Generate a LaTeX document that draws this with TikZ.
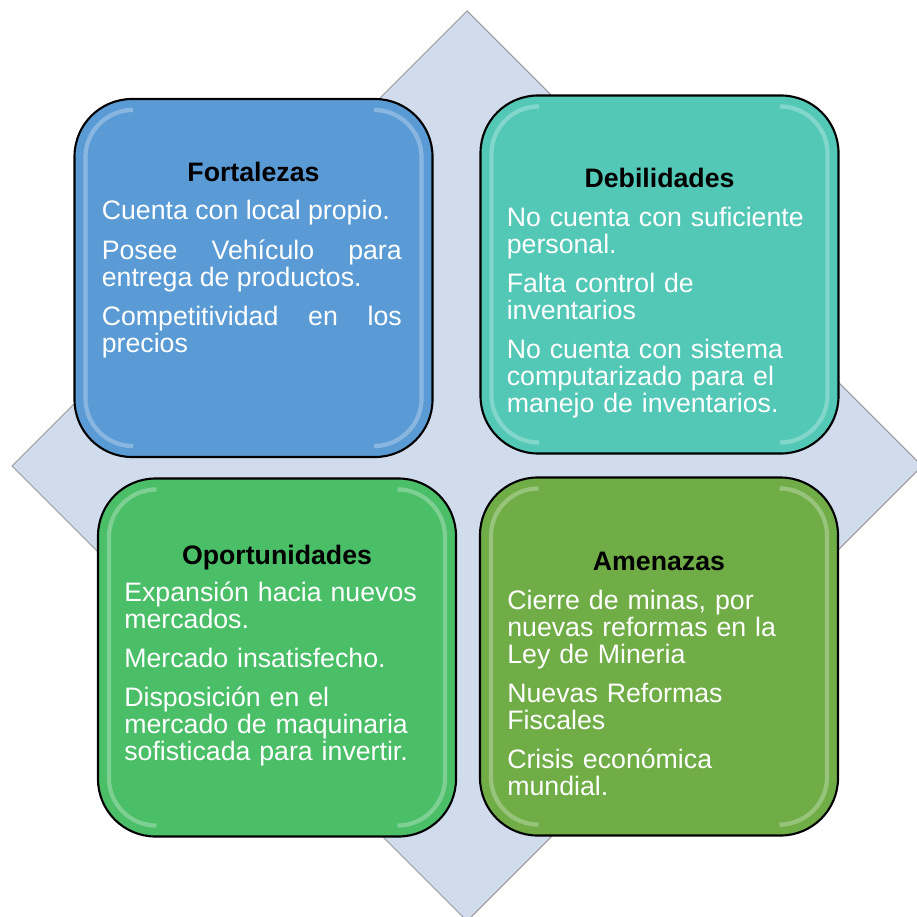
\documentclass[tikz,border=0pt]{standalone}
\usepackage{fontspec}
\setmainfont{Liberation Sans}
\usepackage{tikz}
\pgfdeclarelayer{background}
\pgfsetlayers{background,main}
\hyphenpenalty=10000
\exhyphenpenalty=10000
\definecolor{fortblue}{HTML}{5B9BD5}
\definecolor{debteal}{HTML}{53C8B6}
\definecolor{opogreen}{HTML}{4BBE68}
\definecolor{amegreen}{HTML}{70AD47}
\definecolor{diamondfill}{HTML}{D0DBEC}
\tikzstyle{swot}=[draw=black, line width=1.2pt, rounded corners=1.15cm,
    minimum width=7.16cm, minimum height=7.16cm]
\tikzstyle{head}=[font=\fontsize{15.2}{15.4}\selectfont\bfseries, inner sep=0pt]
\tikzstyle{body}=[text=white, text width=6cm, align=left, inner sep=0pt,
    font=\fontsize{15.2}{15.3}\selectfont]
\tikzstyle{glow}=[white, opacity=0.28, line width=2.4pt, rounded corners=0.95cm]

\begin{document}
\begin{tikzpicture}
  \useasboundingbox (0,0) rectangle (18.32,-18.34);
  \node[swot, fill=fortblue] at (5.07,-5.56) (fort) {};
  \node[swot, fill=debteal] at (13.19,-5.49) (deb) {};
  \node[swot, fill=opogreen] at (5.54,-13.15) (opo) {};
  \node[swot, fill=amegreen] at (13.18,-13.13) (ame) {};

  % bevel light on the sides
  \draw[glow] ([shift={(1.1,-0.24)}]fort.north west) -- ([shift={(0.24,-0.24)}]fort.north west) -- ([shift={(0.24,0.24)}]fort.south west) -- ([shift={(1.1,0.24)}]fort.south west);
  \draw[glow] ([shift={(-1.1,-0.24)}]fort.north east) -- ([shift={(-0.24,-0.24)}]fort.north east) -- ([shift={(-0.24,0.24)}]fort.south east) -- ([shift={(-1.1,0.24)}]fort.south east);
  \draw[glow] ([shift={(1.1,-0.24)}]deb.north west) -- ([shift={(0.24,-0.24)}]deb.north west) -- ([shift={(0.24,0.24)}]deb.south west) -- ([shift={(1.1,0.24)}]deb.south west);
  \draw[glow] ([shift={(-1.1,-0.24)}]deb.north east) -- ([shift={(-0.24,-0.24)}]deb.north east) -- ([shift={(-0.24,0.24)}]deb.south east) -- ([shift={(-1.1,0.24)}]deb.south east);
  \draw[glow] ([shift={(1.1,-0.24)}]opo.north west) -- ([shift={(0.24,-0.24)}]opo.north west) -- ([shift={(0.24,0.24)}]opo.south west) -- ([shift={(1.1,0.24)}]opo.south west);
  \draw[glow] ([shift={(-1.1,-0.24)}]opo.north east) -- ([shift={(-0.24,-0.24)}]opo.north east) -- ([shift={(-0.24,0.24)}]opo.south east) -- ([shift={(-1.1,0.24)}]opo.south east);
  \draw[glow] ([shift={(1.1,-0.24)}]ame.north west) -- ([shift={(0.24,-0.24)}]ame.north west) -- ([shift={(0.24,0.24)}]ame.south west) -- ([shift={(1.1,0.24)}]ame.south west);
  \draw[glow] ([shift={(-1.1,-0.24)}]ame.north east) -- ([shift={(-0.24,-0.24)}]ame.north east) -- ([shift={(-0.24,0.24)}]ame.south east) -- ([shift={(-1.1,0.24)}]ame.south east);

  \path (fort.north) +(0,-1.68) node[head, anchor=base] (fhead) {Fortalezas};
  \path (fort.north west) +(0.56,-2.44) node[body, align=justify, anchor=base west] (ftext)
    {Cuenta con local propio.\\[7pt] Posee Vehículo para entrega de productos.\\[7pt] Competitividad en los precios};

  \path (deb.north) +(0,-1.86) node[head, anchor=base] (dhead) {Debilidades};
  \path (deb.north west) +(0.54,-2.64) node[body, anchor=base west] (dtext)
    {No cuenta con suficiente personal.\\[7pt] Falta control de inventarios\\[7pt] No cuenta con sistema computarizado para el manejo de inventarios.};

  \path (opo.north) +(0,-1.74) node[head, anchor=base] (ohead) {Oportunidades};
  \path (opo.north west) +(0.54,-2.48) node[body, anchor=base west] (otext)
    {Expansión hacia nuevos mercados.\\[7pt] Mercado insatisfecho.\\[7pt] Disposición en el mercado de maquinaria sofisticada para invertir.};

  \path (ame.north) +(0,-1.88) node[head, anchor=base] (ahead) {Amenazas};
  \path (ame.north west) +(0.56,-2.66) node[body, anchor=base west] (atext)
    {Cierre de minas, por nuevas reformas en la Ley de Mineria\\[7pt] Nuevas Reformas Fiscales\\[7pt] Crisis económica mundial.};

  \begin{pgfonlayer}{background}
    \path[draw=gray!80, fill=diamondfill, line width=0.6pt]
      (9.34,-0.22) -- (18.44,-9.32) -- (9.34,-18.42) -- (0.24,-9.32) -- cycle;
  \end{pgfonlayer}
\end{tikzpicture}
\end{document}
